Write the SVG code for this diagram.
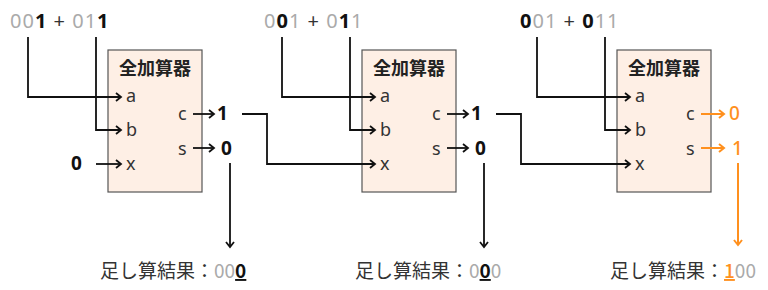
<svg xmlns="http://www.w3.org/2000/svg" width="768" height="290" viewBox="0 0 768 290">
<style>
text{font-family:"Noto Sans","Noto Sans CJK JP",sans-serif;}
.box{fill:#FEEFE5;stroke:#555;stroke-width:1.2;}
.title{font-size:18px;font-weight:bold;fill:#222;text-anchor:middle;font-family:"Noto Sans CJK JP",sans-serif;}
.lbl{font-size:18px;fill:#333;}
.val{font-size:19px;font-weight:bold;fill:#111;}
.top{font-size:20px;fill:#aaa;letter-spacing:1px;}
.p{fill:#333;}
.b{fill:#111;font-weight:bold;}
.res{font-size:19px;fill:#333;font-family:"Noto Sans CJK JP",sans-serif;}
.g{fill:#aaa;}
.or{fill:#FF901E;}
.ln{fill:none;stroke:#111;stroke-width:1.8;marker-end:url(#ah);}
.lo{fill:none;stroke:#FF901E;stroke-width:2;marker-end:url(#aho);}
</style>
<defs>
<marker id="ah" markerUnits="userSpaceOnUse" markerWidth="10" markerHeight="12" refX="7" refY="5" orient="auto">
<path d="M2,1 L7,5 L2,9" fill="none" stroke="#111" stroke-width="1.8"/>
</marker>
<marker id="aho" markerUnits="userSpaceOnUse" markerWidth="10" markerHeight="12" refX="7" refY="5" orient="auto">
<path d="M2,1 L7,5 L2,9" fill="none" stroke="#FF901E" stroke-width="2"/>
</marker>
</defs>

<g id="sum1"><text class="top" x="10" y="28">00<tspan class="b">1</tspan><tspan class="p"> + </tspan>01<tspan class="b">1</tspan></text></g>
<g id="sum2"><text class="top" x="264" y="28">0<tspan class="b">0</tspan>1<tspan class="p"> + </tspan>0<tspan class="b">1</tspan>1</text></g>
<g id="sum3"><text class="top" x="520" y="28"><tspan class="b">0</tspan>01<tspan class="p"> + </tspan><tspan class="b">0</tspan>11</text></g>

<g id="adder1">
<rect class="box" x="108" y="50" width="94" height="142"/>
<text class="title" x="155" y="75">全加算器</text>
<text class="lbl" x="126" y="102">a</text>
<text class="lbl" x="126" y="136">b</text>
<text class="lbl" x="126" y="170">x</text>
<text class="lbl" x="178" y="120">c</text>
<text class="lbl" x="178" y="155">s</text>
</g>
<g id="adder2">
<rect class="box" x="362" y="50" width="94" height="142"/>
<text class="title" x="409" y="75">全加算器</text>
<text class="lbl" x="380" y="102">a</text>
<text class="lbl" x="380" y="136">b</text>
<text class="lbl" x="380" y="170">x</text>
<text class="lbl" x="432" y="120">c</text>
<text class="lbl" x="432" y="155">s</text>
</g>
<g id="adder3">
<rect class="box" x="617" y="50" width="94" height="142"/>
<text class="title" x="664" y="75">全加算器</text>
<text class="lbl" x="635" y="102">a</text>
<text class="lbl" x="635" y="136">b</text>
<text class="lbl" x="635" y="170">x</text>
<text class="lbl" x="686" y="120">c</text>
<text class="lbl" x="686" y="155">s</text>
</g>

<g id="in0"><text class="val" x="71" y="170">0</text></g>
<g id="c1"><text class="val" x="217" y="120">1</text></g>
<g id="s1"><text class="val" x="221" y="155">0</text></g>
<g id="c2"><text class="val" x="471" y="120">1</text></g>
<g id="s2"><text class="val" x="475" y="155">0</text></g>
<g id="c3"><text class="val or" x="729" y="120" style="font-weight:500">0</text></g>
<g id="s3"><text class="val or" x="732" y="155" style="font-weight:500">1</text></g>

<g id="result1"><text class="res" x="100" y="278">足し算結果：<tspan class="g">00</tspan><tspan fill="#111" font-weight="bold" text-decoration="underline">0</tspan></text></g>
<g id="result2"><text class="res" x="355" y="278">足し算結果：<tspan class="g">0</tspan><tspan fill="#111" font-weight="bold" text-decoration="underline">0</tspan><tspan class="g">0</tspan></text></g>
<g id="result3"><text class="res" x="610" y="278">足し算結果：<tspan class="or" font-weight="500" text-decoration="underline">1</tspan><tspan class="g">00</tspan></text></g>

<g id="connectors">
<path class="ln" d="M28,37 V97 H121"/>
<path class="ln" d="M96,37 V130 H121"/>
<path class="ln" d="M96,164 H121"/>
<path class="ln" d="M193,114 H214"/>
<path class="ln" d="M193,148 H214"/>
<path class="ln" d="M230,163 V247"/>
<path class="ln" d="M242,114 H267 V164 H375"/>

<path class="ln" d="M282,37 V97 H375"/>
<path class="ln" d="M350,37 V130 H375"/>
<path class="ln" d="M447,114 H468"/>
<path class="ln" d="M447,148 H468"/>
<path class="ln" d="M484,163 V247"/>
<path class="ln" d="M496,114 H521 V164 H630"/>

<path class="ln" d="M537,37 V97 H630"/>
<path class="ln" d="M605,37 V130 H630"/>
<path class="lo" d="M701,114 H724"/>
<path class="lo" d="M701,148 H724"/>
<path class="lo" d="M738,163 V245"/>
</g>
</svg>
